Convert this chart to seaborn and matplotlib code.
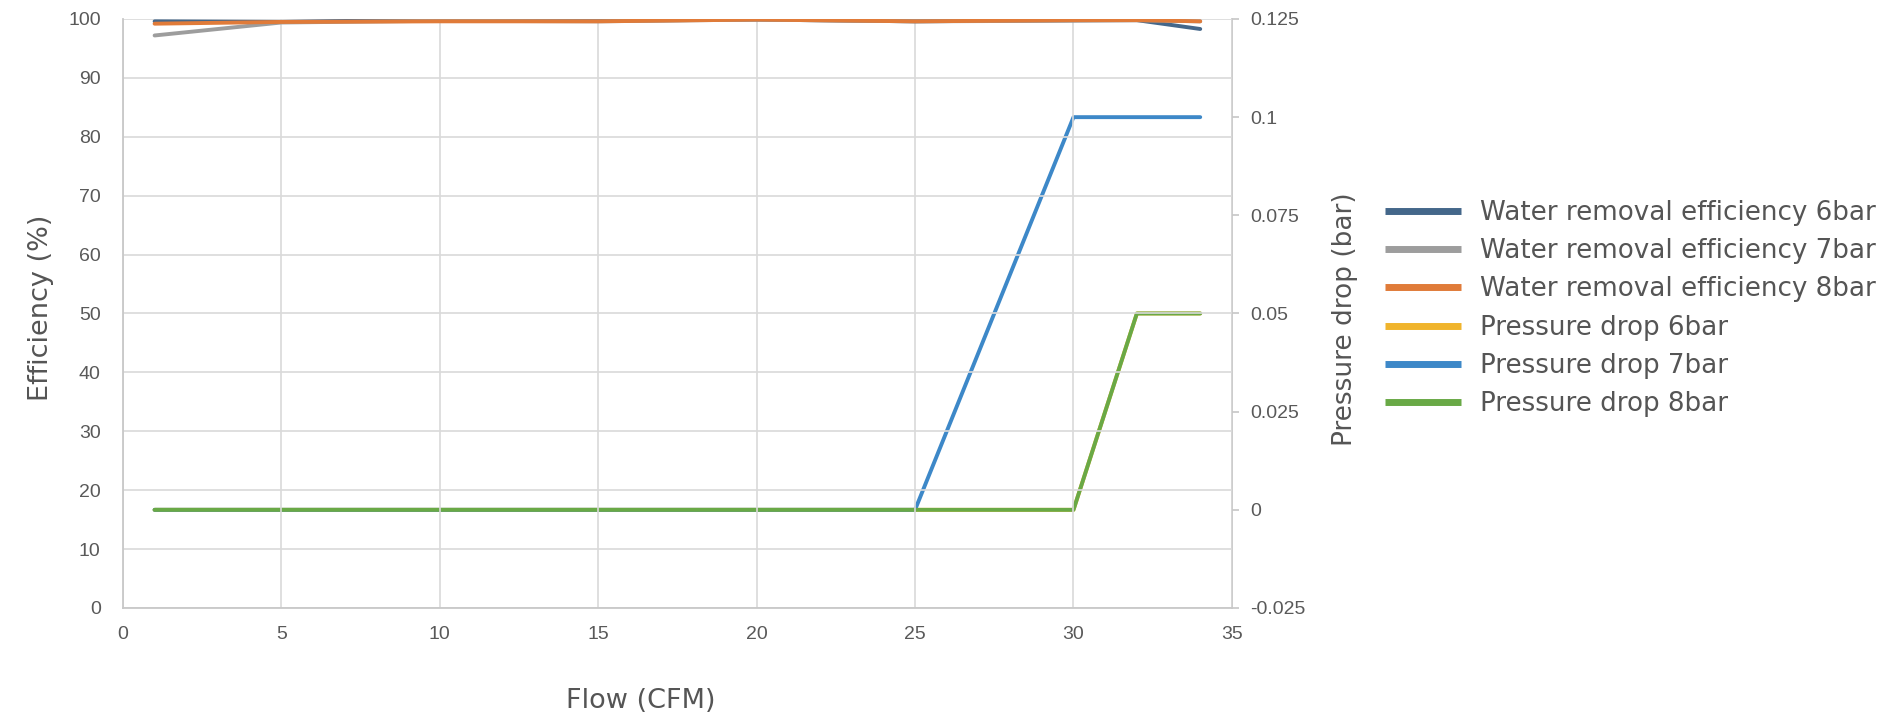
import pandas as pd
import matplotlib.pyplot as plt
import seaborn as sns

sns.set_theme(style="white")
plt.rcParams['font.family'] = ['DejaVu Sans']

# ========= Data =========
flow = [1, 5, 10, 15, 20, 25, 30, 32, 34]
eff_6bar = [99.6, 99.5, 99.9, 99.7, 99.9, 99.6, 99.8, 99.8, 98.3]
eff_7bar = [97.2, 99.4, 99.7, 99.6, 99.9, 99.6, 99.7, 99.8, 99.6]
eff_8bar = [99.2, 99.5, 99.6, 99.6, 99.9, 99.6, 99.8, 99.8, 99.6]
dp_6bar = [0, 0, 0, 0, 0, 0, 0, 0.05, 0.05]
dp_7bar = [0, 0, 0, 0, 0, 0, 0.1, 0.1, 0.1]
dp_8bar = [0, 0, 0, 0, 0, 0, 0, 0.05, 0.05]

eff_names = ["Water removal efficiency 6bar", "Water removal efficiency 7bar",
             "Water removal efficiency 8bar"]
dp_names = ["Pressure drop 6bar", "Pressure drop 7bar", "Pressure drop 8bar"]
eff_colors = ["#44678a", "#9d9d9d", "#e07b39"]
dp_colors = ["#f0b42c", "#3d88c8", "#69a946"]

eff_df = pd.DataFrame({"flow": flow * 3,
                       "value": eff_6bar + eff_7bar + eff_8bar,
                       "series": [n for n in eff_names for _ in flow]})
dp_df = pd.DataFrame({"flow": flow * 3,
                      "value": dp_6bar + dp_7bar + dp_8bar,
                      "series": [n for n in dp_names for _ in flow]})

tick_color = "#595959"
label_color = "#555555"
grid_color = "#d9d9d9"

fig = plt.figure(figsize=(18.88, 7.19), dpi=100)
ax = fig.add_axes([0.0651, 0.1544, 0.5874, 0.8192])
ax2 = ax.twinx()

sns.lineplot(data=dp_df, x="flow", y="value", hue="series", palette=dp_colors,
             linewidth=2.8, ax=ax2, legend=False)
sns.lineplot(data=eff_df, x="flow", y="value", hue="series", palette=eff_colors,
             linewidth=2.8, ax=ax, legend=False)
ax.set_zorder(ax2.get_zorder() + 1)
ax.patch.set_visible(False)

ax.set_xlim(0, 35)
ax.set_ylim(0, 100)
ax.set_xticks(range(0, 36, 5))
ax.set_yticks(range(0, 101, 10))
ax2.set_ylim(-0.025, 0.125)
ax2.set_yticks([-0.025, 0, 0.025, 0.05, 0.075, 0.1, 0.125])
ax2.set_yticklabels(["-0.025", "0", "0.025", "0.05", "0.075", "0.1", "0.125"])

ax.grid(True, color=grid_color, linewidth=1.2)
ax2.grid(False)
for a in (ax, ax2):
    for s in a.spines.values():
        s.set_visible(False)
ax.spines['left'].set_visible(True)
ax.spines['bottom'].set_visible(True)
ax2.spines['right'].set_visible(True)
for s in (ax.spines['left'], ax.spines['bottom'], ax2.spines['right']):
    s.set_color("#c8c8c8")
    s.set_linewidth(1.3)

ax.tick_params(axis='both', length=0, labelsize=14, labelcolor=tick_color, pad=13)
ax.tick_params(axis='y', pad=16)
ax2.tick_params(axis='y', length=5, color="#c8c8c8", labelsize=14,
                labelcolor=tick_color, pad=8)
for lab in ax.get_xticklabels() + ax.get_yticklabels() + ax2.get_yticklabels():
    lab.set_family(['Liberation Sans', 'DejaVu Sans'])

ax.set_xlabel("Flow (CFM)", fontsize=19.5, color=label_color)
ax.set_ylabel("Efficiency (%)", fontsize=19.5, color=label_color)
ax2.set_ylabel("Pressure drop (bar)", fontsize=19, color=label_color)
ax.xaxis.set_label_coords(0.467, -0.135)
ax.yaxis.set_label_coords(-0.062, 0.51)
ax2.yaxis.set_label_coords(1.09, 0.49)

handles = [plt.Line2D([], [], color=c, linewidth=5, solid_capstyle='butt')
           for c in eff_colors + dp_colors]
fig.legend(handles, eff_names + dp_names, loc='upper left',
           bbox_to_anchor=(0.7336, 0.722), frameon=False, fontsize=18.8,
           borderpad=0, borderaxespad=0,
           handlelength=2.9, handletextpad=0.72, labelspacing=0.47,
           labelcolor=label_color)

plt.savefig("out.png", dpi=100)
plt.close()
